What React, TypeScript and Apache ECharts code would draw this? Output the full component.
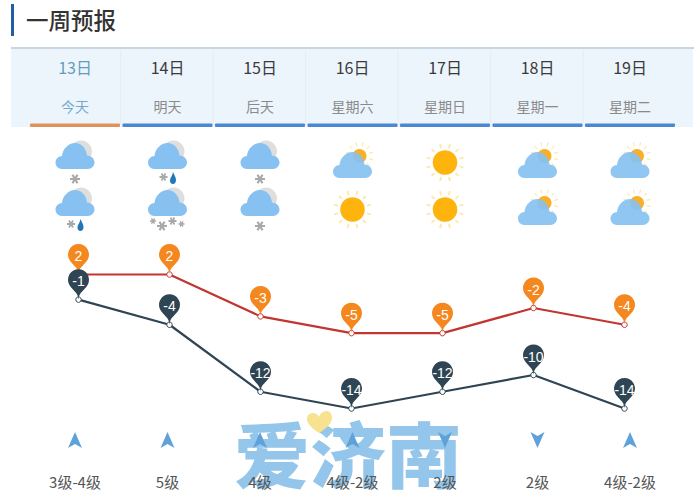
import React, { useEffect, useRef } from "react";
import * as echarts from "echarts";

const dates = ["13日", "14日", "15日", "16日", "17日", "18日", "19日"];
const weekdays = ["今天", "明天", "后天", "星期六", "星期日", "星期一", "星期二"];
const highs = [2, 2, -3, -5, -5, -2, -4];
const lows = [-1, -4, -12, -14, -12, -10, -14];
const windLevels = ["3级-4级", "5级", "4级", "4级-2级", "2级", "2级", "4级-2级"];
const windDirections = ["up", "up", "up", "up", "down", "down", "up"];
const dayWeather = ["snow", "sleet", "snow", "partly", "sun", "partly", "partly"];
const nightWeather = ["sleet", "heavy", "snow", "sun", "sun", "partly", "partly"];

const FONT = '"Noto Sans CJK SC", "Noto Sans", sans-serif';
const CLOUD =
  "M-13,0 C-17,0 -19.5,-3 -19.5,-6.5 C-19.5,-10 -16.5,-13 -13,-13 C-12.5,-20 -6.5,-26 0,-26 C6.5,-26 11.5,-20.5 12,-13.5 C16,-13.5 19.5,-10.5 19.5,-6.5 C19.5,-3 16.5,0 13,0 Z";
const FLAKE = "M-5,0 L5,0 M-2.5,-4.3 L2.5,4.3 M-2.5,4.3 L2.5,-4.3";
const DROP = "M0,-7 C1,-4 3,-2 3,1 C3,3.5 1.5,5 0,5 C-2,5 -3,3.5 -3,1.5 C-3,-1 -0.5,-3.5 0,-7 Z";
const HEART = "M0,9 C-9,3 -12,-1 -12,-5 C-12,-9 -9,-11 -6,-11 C-3,-11 -1,-9 0,-7 C1,-10 4,-13 8,-13 C11,-13 13,-10 13,-6 C13,-1 8,4 0,9 Z";
const ARROW = "M0,-8 L7,8 L0,4 L-7,8 Z";

echarts.graphic.registerShape("heart", echarts.graphic.extendPath(HEART, {}) as any);

const path = (d: string, x: number, y: number, style: any, scale = 1) => ({
  type: "path",
  x,
  y,
  scaleX: scale,
  scaleY: scale,
  shape: { pathData: d },
  style,
});
const flake = (x: number, y: number, s = 1) =>
  path(FLAKE, x, y, { fill: "none", stroke: "#a9a9a9", lineWidth: 2.2 }, s);

function sunRays(cx: number, cy: number, r0: number, r1: number, count: number, lineWidth: number) {
  const parts: string[] = [];
  for (let k = 0; k < count; k++) {
    const a = ((k + 0.5) / count) * Math.PI * 2;
    parts.push(
      `M${(cx + Math.cos(a) * r0).toFixed(1)},${(cy + Math.sin(a) * r0).toFixed(1)} L${(cx + Math.cos(a) * r1).toFixed(1)},${(cy + Math.sin(a) * r1).toFixed(1)}`
    );
  }
  return path(parts.join(" "), 0, 0, { fill: "none", stroke: "#fbe9ad", lineWidth });
}

function weatherIcon(kind: string, x: number, y: number) {
  const children: any[] = [];
  if (kind === "sun") {
    children.push(sunRays(0, 0, 15, 19, 12, 2));
    children.push({ type: "circle", shape: { cx: 0, cy: 0, r: 12.3 }, style: { fill: "#ffb40d" } });
  } else if (kind === "partly") {
    children.push(sunRays(7, -6.5, 10, 14, 12, 1.2));
    children.push({ type: "circle", shape: { cx: 7, cy: -6.5, r: 7 }, style: { fill: "#f9b026" } });
    children.push(path(CLOUD, 0, 15.5, { fill: "#87c1f1", opacity: 0.92 }));
  } else {
    children.push({ type: "circle", shape: { cx: 6, cy: -11, r: 11 }, style: { fill: "#dedede" } });
    children.push(path(CLOUD, 0, 6.5, { fill: "#87c1f1" }));
    if (kind === "snow") children.push(flake(0, 16.5));
    if (kind === "sleet") {
      children.push(flake(-4, 14.5, 0.8));
      children.push(path(DROP, 5.5, 16.5, { fill: "#2277b8" }));
    }
    if (kind === "heavy") {
      children.push(flake(-14.5, 11.5, 0.6));
      children.push(flake(-5.5, 16.5, 1));
      children.push(flake(5, 11.5, 0.8));
      children.push(flake(14, 14.5, 0.6));
    }
  }
  return { type: "group", x, y, children };
}

const pinData = (values: number[]) => values.map((v, i) => ({ coord: [i, v], value: v }));

export default function App() {
  const ref = useRef<HTMLDivElement>(null);
  useEffect(() => {
    const chart = echarts.init(ref.current!, null, { renderer: "svg" });
    const idx = dates.map((_, i) => [i, 0]);
    const hiddenCat = { type: "category", data: dates, show: false };
    const labelAxis = (data: string[], position: string, margin: number, fontSize: number, color: any) => ({
      type: "category",
      data,
      gridIndex: 1,
      position,
      z: 6,
      axisLine: { show: false },
      axisTick: { show: false },
      axisLabel: { show: true, interval: 0, margin, fontSize, color, fontFamily: FONT, verticalAlign: "middle" },
    });
    chart.setOption({
      animation: false,
      backgroundColor: "#ffffff",
      grid: [
        { left: 33, top: 249.375, width: 637, height: 209.375 },
        { left: 28.75, top: 127, width: 647.5, height: 333 },
      ],
      xAxis: [
        hiddenCat,
        labelAxis(dates, "top", 60, 16, (_: string, i: number) => (i === 0 ? "#5f9dbd" : "#3a3a3a")),
        labelAxis(weekdays, "top", 21, 14, (_: string, i: number) => (i === 0 ? "#74a9cf" : "#8a8a8a")),
        labelAxis(windLevels, "bottom", 21, 15, "#555555"),
      ],
      yAxis: [
        { type: "value", min: -20, max: 5, show: false },
        { type: "value", min: 0, max: 1, show: false, gridIndex: 1 },
      ],
      graphic: [
        { type: "rect", z: 0, shape: { x: 11, y: 4, width: 3, height: 32 }, style: { fill: "#1f5fa6" } },
        {
          type: "text", z: 0, x: 26, y: 19,
          style: { text: "一周预报", font: `500 22.5px ${FONT}`, fill: "#333333", verticalAlign: "middle" },
        },
        { type: "rect", z: 0, shape: { x: 11, y: 47.5, width: 683, height: 1 }, style: { fill: "#93abc2" } },
        { type: "rect", z: 0, shape: { x: 11, y: 49, width: 682, height: 78 }, style: { fill: "#edf5fc" } },
        {
          type: "text", z: 1, x: 234, y: 450, scaleX: 1.055,
          style: { text: "爱济南", font: `900 72px ${FONT}`, fill: "#93c6ea", verticalAlign: "middle" },
        },
        { type: "heart", z: 2, x: 319, y: 424, style: { fill: "#f6e28f" } },
      ],
      series: [
        {
          type: "custom",
          xAxisIndex: 1,
          yAxisIndex: 1,
          z: 1,
          silent: true,
          clip: false,
          data: idx,
          renderItem: (params: any, api: any) => {
            const x = api.coord([api.value(0), 0])[0];
            const i = params.dataIndex;
            const children: any[] = [
              {
                type: "rect",
                shape: { x: x - 45, y: 123.5, width: 90, height: 3.5, r: 1 },
                style: { fill: i === 0 ? "#e0925c" : "#4a88d2" },
              },
              weatherIcon(dayWeather[i], x, 162.5),
              weatherIcon(nightWeather[i], x, 209.5),
              {
                type: "group",
                x,
                y: 440,
                rotation: windDirections[i] === "down" ? Math.PI : 0,
                children: [path(ARROW, 0, 0, { fill: "#5fa2da" })],
              },
            ];
            if (i < dates.length - 1) {
              children.push({
                type: "line",
                shape: { x1: x + 45.7, y1: 50, x2: x + 45.7, y2: 123 },
                style: { stroke: "#e3ecf4", lineWidth: 1 },
              });
            }
            return { type: "group", children };
          },
        },
        {
          type: "line",
          name: "最高气温",
          data: highs,
          z: 3,
          symbol: "circle",
          symbolSize: 5.5,
          itemStyle: { color: "#ffffff", borderColor: "#c23531", borderWidth: 1 },
          lineStyle: { color: "#c23531", width: 2.2 },
          markPoint: {
            symbol: "pin",
            symbolSize: 35,
            itemStyle: { color: "#f5871f" },
            label: { color: "#ffffff", fontSize: 14, fontFamily: "Liberation Sans" },
            data: pinData(highs),
          },
        },
        {
          type: "line",
          name: "最低气温",
          data: lows,
          z: 4,
          symbol: "circle",
          symbolSize: 5.5,
          itemStyle: { color: "#ffffff", borderColor: "#2f4554", borderWidth: 1 },
          lineStyle: { color: "#2f4554", width: 2.2 },
          markPoint: {
            symbol: "pin",
            symbolSize: 35,
            itemStyle: { color: "#2f4554" },
            label: { color: "#ffffff", fontSize: 14, fontFamily: "Liberation Sans" },
            data: pinData(lows),
          },
        },
      ],
    });
    return () => chart.dispose();
  }, []);
  return <div ref={ref} style={{ position: "fixed", left: 0, top: 0, width: 700, height: 495 }} />;
}
